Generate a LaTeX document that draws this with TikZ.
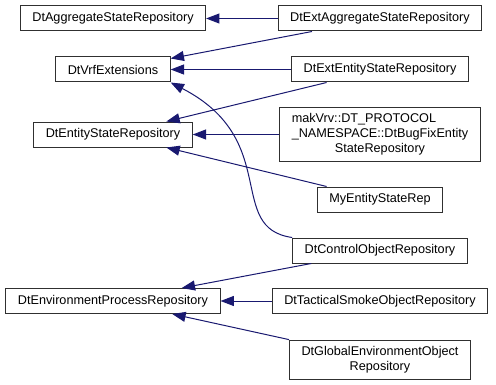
\documentclass[tikz,border=0pt]{standalone}
\usepackage{fontspec}
\setmainfont{Liberation Sans}
\usetikzlibrary{arrows.meta}
\definecolor{cedge}{HTML}{191970}
\definecolor{cbox}{HTML}{303030}
\tikzset{
  every picture/.style={font=\fontsize{9.5}{11.25}\selectfont, line width=0.75pt},
  cls/.style={draw=cbox, fill=white, align=center, inner xsep=9pt, inner ysep=2pt},
  edge/.style={-{Triangle[length=10pt, width=7.5pt]}, draw=cedge, line width=0.75pt},
}
\begin{document}
\begin{tikzpicture}[x=0.75pt, y=0.75pt]
  \useasboundingbox (0,0) rectangle (496,-385);
  % id, centre x, centre y (px from top), height (pt), class name
  \foreach \id/\x/\y/\h/\txt in {
      agg/113/18.5/18.75/{DtAggregateStateRepository},
      vrf/113/69.5/18.75/{DtVrfExtensions},
      ent/113/134.5/18.75/{DtEntityStateRepository},
      env/113/301/18.75/{DtEnvironmentProcessRepository},
      extagg/380/18.5/18.75/{DtExtAggregateStateRepository},
      extent/380/69.5/18.75/{DtExtEntityStateRepository},
      mak/380/134.5/40.5/{\makebox[0pt][l]{makVrv::DT\_PROTOCOL}\phantom{\_NAMESPACE::DtBugFixEntity}\\\_NAMESPACE::DtBugFixEntity\\StateRepository},
      my/380/199.5/18.75/{MyEntityStateRep},
      ctrl/380/250.5/18.75/{DtControlObjectRepository},
      tac/380/301/18.75/{DtTacticalSmokeObjectRepository},
      glob/380/359.5/29.25/{DtGlobalEnvironmentObject\\Repository}} {
    \node[cls, minimum height=\h pt] (\id) at (\x,-\y) {\txt};
  }
  % derived -> base
  \foreach \a/\b in {extagg/agg, extagg/vrf, extent/vrf, extent/ent, mak/ent,
      my/ent, ctrl/env, tac/env, glob/env}
    \draw[edge] (\a) -- (\b);
  \draw[edge] (ctrl.north west) .. controls (225,-228) and (282,-140) .. (vrf.south east);
\end{tikzpicture}
\end{document}
